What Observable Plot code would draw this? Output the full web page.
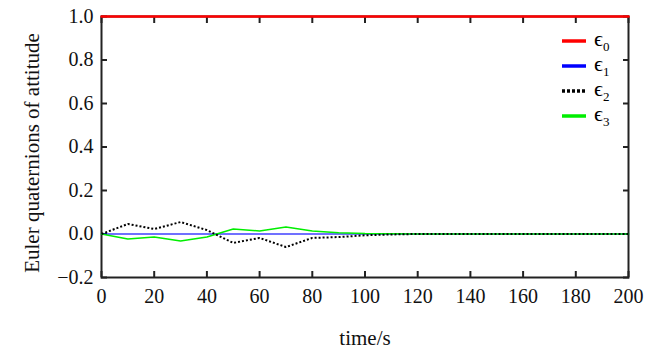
<!DOCTYPE html>
<html>
<head>
<meta charset="utf-8">
<script src="https://cdn.jsdelivr.net/npm/d3@7"></script>
<script src="https://cdn.jsdelivr.net/npm/@observablehq/plot@0.6"></script>
<style>
  html, body { margin: 0; padding: 0; background: #fff; }
  #wrap { position: relative; width: 667px; height: 358px; font-family: "Liberation Serif", "Times New Roman", serif; }
  #legend { position: absolute; left: 562px; top: 28px; font-family: "Liberation Serif", "DejaVu Serif", serif; }
  .item { display: flex; align-items: center; height: 25px; }
  .item svg { width: 24px; height: 6px; margin-right: 8px; }
  .lab { font-size: 22px; line-height: 1; }
  .lab sub { font-size: 13px; vertical-align: -5px; }
</style>
</head>
<body>
<div id="wrap"><div id="chart"></div><div id="legend"></div></div>
<script>
const time = [0,10,20,30,40,50,60,70,80,90,100,110,120,130,140,150,160,170,180,190,200];
const eps0 = [1,1,1,1,1,1,1,1,1,1,1,1,1,1,1,1,1,1,1,1,1];
const eps1 = [0,0,0,0,0,0,0,0,0,0,0,0,0,0,0,0,0,0,0,0,0];
const eps2 = [0,0.046,0.023,0.055,0.018,-0.041,-0.018,-0.060,-0.018,-0.014,-0.006,-0.002,0,0,0,0,0,0,0,0,0];
const eps3 = [0,-0.023,-0.014,-0.032,-0.014,0.023,0.014,0.032,0.014,0.006,0.002,0.001,0,0,0,0,0,0,0,0,0];
const xTicks = [0,20,40,60,80,100,120,140,160,180,200];
const yTicks = [-0.2,0,0.2,0.4,0.6,0.8,1.0];
const seriesNames = ["0","1","2","3"];
const seriesColors = ["#ff0000","#0000ff","#000000","#00ee00"];

const serif = "Liberation Serif, Times New Roman, serif";
const rows = (vals) => time.map((t, i) => ({t, v: vals[i]}));
const fmt = d => d < 0 ? "\u2212" + Math.abs(d).toFixed(1) : d.toFixed(1);

const chart = Plot.plot({
  width: 667, height: 358,
  marginLeft: 101, marginRight: 39, marginTop: 16, marginBottom: 81,
  style: {fontFamily: serif, fontSize: "19px", color: "#111", background: "#fff"},
  x: {domain: [0, 200]},
  y: {domain: [-0.2, 1.0]},
  marks: [
    Plot.frame({stroke: "#222", strokeWidth: 2}),
    Plot.axisX(xTicks, {anchor: "bottom", tickSize: 6, dy: -6, text: null, stroke: "#222", strokeWidth: 2, label: null}),
    Plot.axisX(xTicks, {anchor: "top", tickSize: 6, dy: 6, text: null, stroke: "#222", strokeWidth: 2, label: null}),
    Plot.axisY(yTicks, {anchor: "left", tickSize: 6, dx: 6, text: null, stroke: "#222", strokeWidth: 2, label: null}),
    Plot.axisY(yTicks, {anchor: "right", tickSize: 6, dx: -6, text: null, stroke: "#222", strokeWidth: 2, label: null}),
    Plot.text(xTicks, {x: d => d, text: d => String(d), frameAnchor: "bottom", lineAnchor: "top", dy: 11, fontSize: 20, fontFamily: serif, fill: "#111"}),
    Plot.text(yTicks, {y: d => d, text: fmt, frameAnchor: "left", textAnchor: "end", dx: -8, fontSize: 20, fontFamily: serif, fill: "#111"}),
    Plot.line(rows(eps1), {x: "t", y: "v", stroke: seriesColors[1], strokeWidth: 1.5, strokeOpacity: 0.75}),
    Plot.line(rows(eps3), {x: "t", y: "v", stroke: seriesColors[3], strokeWidth: 1.6}),
    Plot.line(rows(eps2), {x: "t", y: "v", stroke: seriesColors[2], strokeWidth: 2, strokeDasharray: "2,2", strokeLinecap: "butt", strokeLinejoin: "miter"}),
    Plot.line(rows(eps0), {x: "t", y: "v", stroke: seriesColors[0], strokeWidth: 2.5}),
    Plot.text(["time/s"], {frameAnchor: "bottom", dy: 67, fontSize: 21, fontFamily: serif, fill: "#111"}),
    Plot.text(["Euler quaternions of attitude"], {frameAnchor: "left", dx: -69, dy: 6, rotate: -90, textAnchor: "middle", fontSize: 21, fontFamily: serif, fill: "#111"})
  ]
});
document.getElementById("chart").appendChild(chart);

const legend = document.getElementById("legend");
seriesNames.forEach((n, i) => {
  const dash = i === 2 ? ' stroke-dasharray="3,2"' : '';
  legend.insertAdjacentHTML("beforeend",
    `<div class="item"><svg viewBox="0 0 24 6"><line x1="0" y1="3" x2="24" y2="3" stroke="${seriesColors[i]}" stroke-width="3.5"${dash}/></svg><span class="lab">\u03F5<sub>${n}</sub></span></div>`);
});
</script>
</body>
</html>
